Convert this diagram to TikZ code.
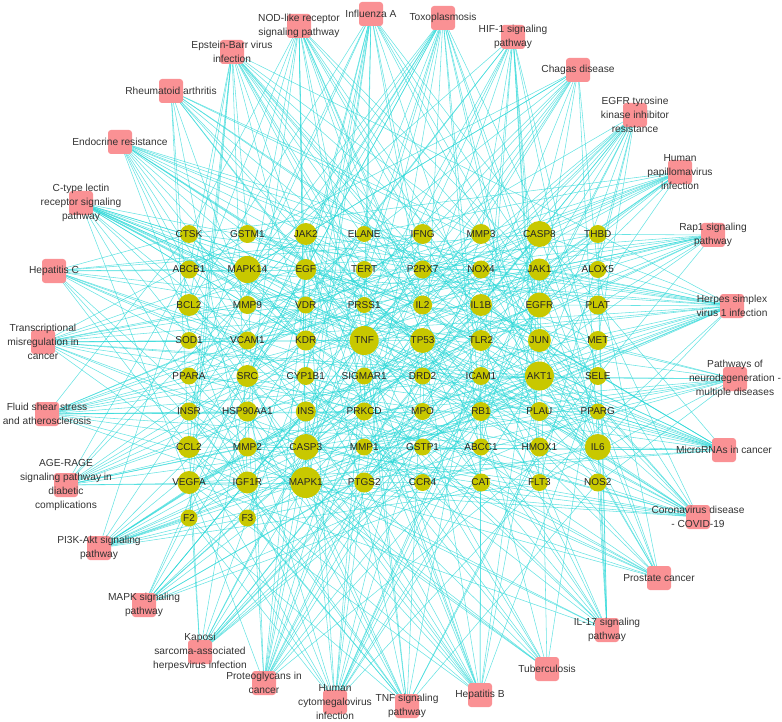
\documentclass[tikz,border=0pt]{standalone}
\usepackage{fontspec}
\setmainfont{Liberation Sans}
\usetikzlibrary{backgrounds}

\definecolor{genecol}{RGB}{200,200,0}
\definecolor{pathcol}{RGB}{250,145,148}
\definecolor{edgecol}{RGB}{40,215,215}

% target genes: name/diameter, row by row
\newcommand{\genelist}{CTSK/18,GSTM1/18,JAK2/22,ELANE/16,IFNG/20,MMP3/20,CASP8/26,THBD/18,
ABCB1/18,MAPK14/27,EGF/21,TERT/17,P2RX7/18,NOX4/18,JAK1/22,ALOX5/17,
BCL2/22,MMP9/18,VDR/17,PRSS1/16,IL2/19,IL1B/22,EGFR/25,PLAT/19,
SOD1/17,VCAM1/18,KDR/20,TNF/29,TP53/25,TLR2/21,JUN/23,MET/19,
PPARA/17,SRC/22,CYP1B1/18,SIGMAR1/17,DRD2/17,ICAM1/18,AKT1/29,SELE/18,
INSR/18,HSP90AA1/20,INS/20,PRKCD/18,MPO/17,RB1/19,PLAU/19,PPARG/16,
CCL2/22,MMP2/19,CASP3/26,MMP1/17,GSTP1/17,ABCC1/17,HMOX1/19,IL6/26,
VEGFA/23,IGF1R/22,MAPK1/31,PTGS2/20,CCR4/17,CAT/18,FLT3/17,NOS2/18,
F2/17,F3/17}

\begin{document}
\begin{tikzpicture}[x=1pt,y=-1pt,
	gene/.style={circle,fill=genecol,inner sep=0pt,minimum size=#1pt},
	genetext/.style={font=\fontsize{10}{12}\selectfont,text=black!85,inner sep=0pt},
	pathbox/.style={rectangle,rounded corners=3pt,fill=pathcol,minimum size=24pt,inner sep=0pt},
	pathtext/.style={font=\fontsize{10.2}{14}\selectfont,align=center,text=black!80,inner sep=0pt},
	edge/.style={draw=edgecol,line width=0.55pt,opacity=0.7}]
	\useasboundingbox (0,0) rectangle (782,722);

	% gene grid
	\foreach \g/\d [count=\i from 0] in \genelist {
		\pgfmathsetmacro\gx{189+58.4*mod(\i,8)}
		\pgfmathsetmacro\gy{234+35.5*div(\i,8)}
		\node[gene=\d,label={[genetext]center:\g}] (\g) at (\gx,\gy) {};
	}

	% pathways round the grid
	\foreach \x/\y/\t [count=\k] in {
		371/14/{Influenza A},
		299/26/{NOD-like receptor\\signaling pathway},
		232/52/{Epstein-Barr virus\\infection},
		171/91/{Rheumatoid arthritis},
		120/142/{Endocrine resistance},
		81/203/{C-type lectin\\receptor signaling\\pathway},
		54/271/{Hepatitis C},
		43/342/{Transcriptional\\misregulation in\\cancer},
		47/414/{Fluid shear stress\\and atherosclerosis},
		66/485/{AGE-RAGE\\signaling pathway in\\diabetic\\complications},
		99/548/{PI3K-Akt signaling\\pathway},
		144/605/{MAPK signaling\\pathway},
		200/652/{Kaposi\\sarcoma-associated\\herpesvirus infection},
		264/683/{Proteoglycans in\\cancer},
		335/702/{Human\\cytomegalovirus\\infection},
		407/706/{TNF signaling\\pathway},
		480/695/{Hepatitis B},
		547/669/{Tuberculosis},
		607/630/{IL-17 signaling\\pathway},
		659/578/{Prostate cancer},
		698/517/{Coronavirus disease\\- COVID-19},
		724/450/{MicroRNAs in cancer},
		735/379/{Pathways of\\neurodegeneration -\\multiple diseases},
		732/306/{Herpes simplex\\virus 1 infection},
		713/235/{Rap1 signaling\\pathway},
		680/172/{Human\\papillomavirus\\infection},
		635/115/{EGFR tyrosine\\kinase inhibitor\\resistance},
		578/70/{Chagas disease},
		513/37/{HIF-1 signaling\\pathway},
		443/18/{Toxoplasmosis}} {
		\node[pathbox,label={[pathtext]center:\t}] (p\k) at (\x,\y) {};
	}

	% links pathway -- gene, bigger genes get more of them
	\pgfmathsetseed{2023}
	\begin{scope}[on background layer]
		\foreach \k in {1,...,30} {
			\foreach \g/\d in \genelist {
				\pgfmathtruncatemacro\hit{rnd<(\d-12)/30}
				\ifnum\hit=1 \draw[edge] (p\k.center) -- (\g.center); \fi
			}
		}
	\end{scope}
\end{tikzpicture}
\end{document}
